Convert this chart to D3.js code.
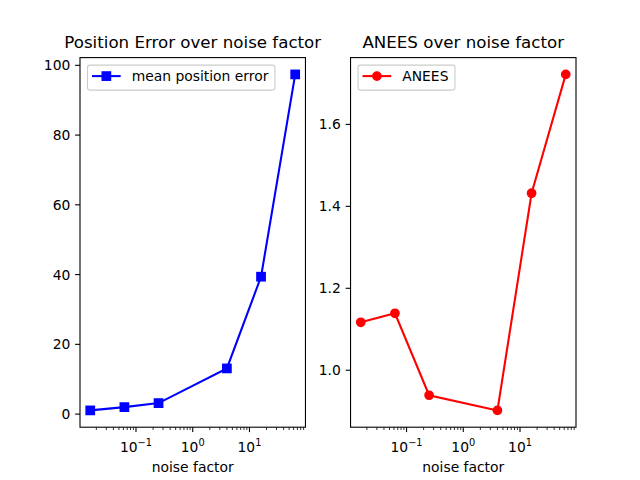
<!DOCTYPE html>
<html><head><meta charset="utf-8">
<script src="https://cdn.jsdelivr.net/npm/d3@7"></script>
<style>body{margin:0;background:#fff}svg{display:block;font-family:"DejaVu Sans",sans-serif}</style>
</head><body><svg id="c" width="640" height="480"></svg>
<script>
const noiseFactors = [1/64, 1/16, 0.25, 4, 16, 64];
const posError = [1.06, 2.0, 3.15, 13.1, 39.4, 97.4];
const anees = [1.117, 1.139, 0.939, 0.902, 1.432, 1.722];
const leftYTicks = [0, 20, 40, 60, 80, 100];
const rightYTicks = [1.0, 1.2, 1.4, 1.6];
const xMajorExps = [-1, 0, 1];

(function () {
const svg = d3.select("#c");
const axTop = 57.6, axBottom = 427.2;
const axW = 496 / 2.2;
const fs = 13.89, fsTitle = 16.67;
const panels = [
  {x0: 80, title: "Position Error over noise factor", data: posError, yTicks: leftYTicks, fmt: d3.format("d"),
   color: "blue", marker: "square", label: "mean position error"},
  {x0: 80 + axW * 1.2, title: "ANEES over noise factor", data: anees, yTicks: rightYTicks, fmt: d3.format(".1f"),
   color: "red", marker: "circle", label: "ANEES"}
];

function padDomain(lo, hi) { const m = (hi - lo) * 0.05; return [lo - m, hi + m]; }

panels.forEach(p => {
  const lx = noiseFactors.map(Math.log10);
  const ld = padDomain(d3.min(lx), d3.max(lx));
  const x = d3.scaleLog().domain([10 ** ld[0], 10 ** ld[1]]).range([p.x0, p.x0 + axW]);
  const y = d3.scaleLinear().domain(padDomain(d3.min(p.data), d3.max(p.data))).range([axBottom, axTop]);
  const g = svg.append("g");

  const minor = [];
  for (let e = -3; e <= 2; e++) for (let k = 2; k <= 9; k++) {
    const v = k * 10 ** e;
    if (v >= x.domain()[0] && v <= x.domain()[1]) minor.push(v);
  }
  g.selectAll(".mn").data(minor).join("line")
    .attr("x1", d => x(d)).attr("x2", d => x(d)).attr("y1", axBottom).attr("y2", axBottom + 2.8)
    .attr("stroke", "#000").attr("stroke-width", 0.8);
  const xg = g.selectAll(".mj").data(xMajorExps).join("g");
  xg.append("line").attr("x1", d => x(10 ** d)).attr("x2", d => x(10 ** d))
    .attr("y1", axBottom).attr("y2", axBottom + 4.9).attr("stroke", "#000").attr("stroke-width", 1.1);
  const tx = xg.append("text").attr("x", d => x(10 ** d)).attr("y", axBottom + 24.5)
    .attr("text-anchor", "middle").attr("font-size", fs).attr("fill", "#000");
  tx.append("tspan").text("10");
  tx.append("tspan").attr("font-size", 9.8).attr("dy", -6).text(d => d < 0 ? "\u2212" + (-d) : String(d));

  const yg = g.selectAll(".yt").data(p.yTicks).join("g");
  yg.append("line").attr("x1", p.x0 - 4.9).attr("x2", p.x0).attr("y1", d => y(d)).attr("y2", d => y(d))
    .attr("stroke", "#000").attr("stroke-width", 1.1);
  yg.append("text").attr("x", p.x0 - 9.7).attr("y", d => y(d)).attr("dy", "0.36em")
    .attr("text-anchor", "end").attr("font-size", fs).attr("fill", "#000").text(d => p.fmt(d));

  const pts = noiseFactors.map((n, i) => [x(n), y(p.data[i])]);
  const pg = g.append("g");
  pg.append("path").attr("d", d3.line()(pts)).attr("fill", "none").attr("stroke", p.color).attr("stroke-width", 2.08);
  const ms = 6 * 100 / 72;
  if (p.marker === "square") {
    pg.selectAll("rect").data(pts).join("rect").attr("x", d => d[0] - ms / 2).attr("y", d => d[1] - ms / 2)
      .attr("width", ms).attr("height", ms).attr("fill", p.color).attr("stroke", p.color).attr("stroke-width", 1.39);
  } else {
    pg.selectAll("circle").data(pts).join("circle").attr("cx", d => d[0]).attr("cy", d => d[1])
      .attr("r", ms / 2).attr("fill", p.color).attr("stroke", p.color).attr("stroke-width", 1.39);
  }

  g.append("rect").attr("x", p.x0).attr("y", axTop).attr("width", axW).attr("height", axBottom - axTop)
    .attr("fill", "none").attr("stroke", "#000").attr("stroke-width", 1.1);

  svg.append("text").attr("x", p.x0 + axW / 2).attr("y", axTop - 9.5).attr("text-anchor", "middle")
    .attr("font-size", fsTitle).attr("fill", "#000").text(p.title);
  svg.append("text").attr("x", p.x0 + axW / 2).attr("y", 472).attr("text-anchor", "middle")
    .attr("font-size", fs).attr("fill", "#000").text("noise factor");

  const lg = svg.append("g");
  const lt = lg.append("text").attr("x", p.x0 + 51.7).attr("y", axTop + 18.5).attr("dy", "0.36em")
    .attr("font-size", fs).attr("fill", "#000").text(p.label);
  const tw = lt.node().getComputedTextLength();
  lg.insert("rect", "text").attr("x", p.x0 + 7.5).attr("y", axTop + 7.5).attr("width", 51.7 - 7.5 + tw + 6.5)
    .attr("height", 25).attr("rx", 2.5).attr("fill", "#fff").attr("fill-opacity", 0.8)
    .attr("stroke", "#ccc").attr("stroke-width", 1.1);
  const hy = axTop + 18.5, hx0 = p.x0 + 12, hx1 = p.x0 + 40.7;
  lg.append("line").attr("x1", hx0).attr("x2", hx1).attr("y1", hy).attr("y2", hy)
    .attr("stroke", p.color).attr("stroke-width", 2.08);
  const hc = (hx0 + hx1) / 2;
  if (p.marker === "square") lg.append("rect").attr("x", hc - ms / 2).attr("y", hy - ms / 2).attr("width", ms).attr("height", ms).attr("fill", p.color).attr("stroke", p.color).attr("stroke-width", 1.39);
  else lg.append("circle").attr("cx", hc).attr("cy", hy).attr("r", ms / 2).attr("fill", p.color).attr("stroke", p.color).attr("stroke-width", 1.39);
});
})();
</script></body></html>
